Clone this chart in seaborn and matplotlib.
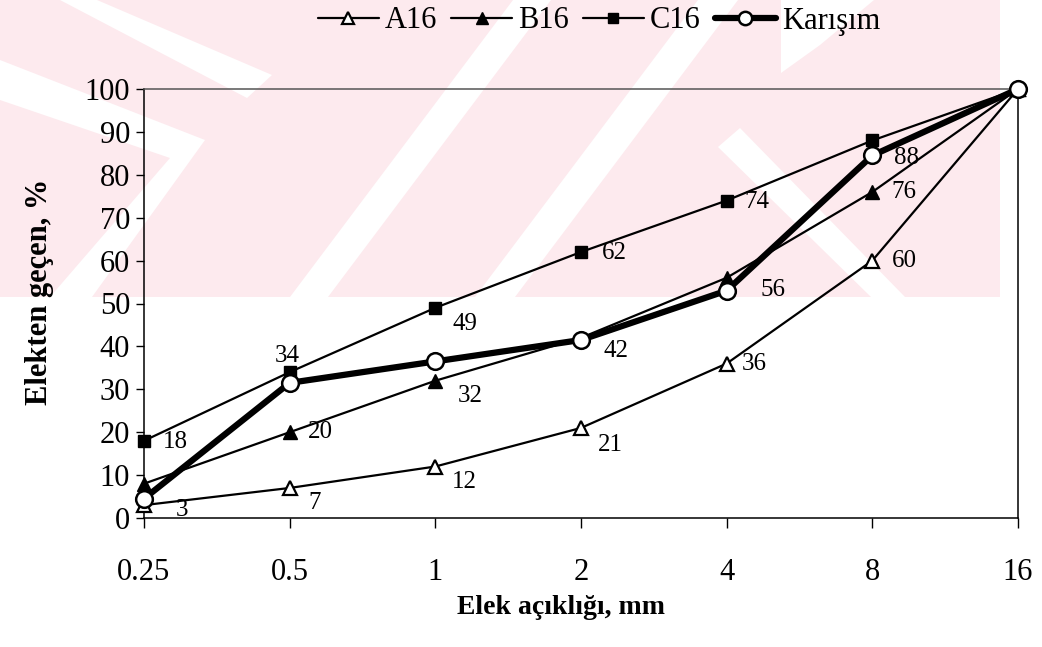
import matplotlib
matplotlib.use("Agg")
import matplotlib.pyplot as plt
import seaborn as sns
import pandas as pd
from matplotlib.patches import Polygon

# ---------------- data ----------------
sieve_sizes = ["0.25", "0.5", "1", "2", "4", "8", "16"]
a16 = [3, 7, 12, 21, 36, 60, 100]
b16 = [8, 20, 32, 42, 56, 76, 100]
c16 = [18, 34, 49, 62, 74, 88, 100]
karisim = [4.5, 31.5, 36.5, 41.5, 53, 84.5, 100]
series_names = ["A16", "B16", "C16", "Karışım"]

# which points carry a value label (index into sieve_sizes)
a16_labelled = [0, 1, 2, 3, 4, 5]
b16_labelled = [1, 2, 3, 4, 5]
c16_labelled = [0, 1, 2, 3, 4, 5]

# label offsets in pixels (right, down) – styling only
a16_offsets = [(38, 5), (25, 15), (29, 15), (29, 17), (28, 0), (32, 0)]
b16_offsets = [(31, 0), (35, 15), (35, 13), (46, 12), (32, 0)]
c16_offsets = [(31, 1), (-2, -16), (30, 16), (33, 1), (30, 1), (34, 18)]

sns.set_theme(style="white")
plt.rcParams["font.family"] = ["Liberation Serif", "DejaVu Serif"]
plt.rcParams["text.color"] = "black"
plt.rcParams["axes.labelcolor"] = "black"
plt.rcParams["xtick.color"] = "black"
plt.rcParams["ytick.color"] = "black"

W, H = 1042, 647
fig = plt.figure(figsize=(W / 100, H / 100), dpi=100)
fig.patch.set_facecolor("white")


# ---------------- watermark (decoration) ----------------
def fpoly(pts, color, z):
    poly = Polygon([(x / W, 1 - y / H) for x, y in pts], closed=True,
                   transform=fig.transFigure, facecolor=color,
                   edgecolor="none", zorder=z)
    fig.add_artist(poly)

pink = "#fdeaee"
fpoly([(0, 0), (1000, 0), (1000, 297), (0, 297)], pink, -20)
white_bands = [
    [(60, 0), (97, 0), (272, 75), (247, 98)],
    [(0, 60), (0, 100), (170, 158), (50, 297), (92, 297), (205, 140)],
    [(290, 297), (328, 297), (551, 0), (513, 0)],
    [(475, 297), (515, 297), (738, 0), (698, 0)],
    [(781, 0), (874, 0), (820, 45), (781, 73)],
    [(718, 147), (740, 128), (905, 297), (871, 297)],
    [(1000, 0), (1042, 0), (1042, 297), (1000, 297)],
]
for b in white_bands:
    fpoly(b, "white", -19)

# ---------------- axes ----------------
ax = fig.add_axes([144 / W, 1 - 518 / H, (1018 - 144) / W, (518 - 89) / H])
ax.set_facecolor("none")

df = pd.DataFrame({
    "size": sieve_sizes * 4,
    "value": a16 + b16 + c16 + karisim,
    "series": sum([[n] * len(sieve_sizes) for n in series_names], []),
})

styles = {
    "A16": dict(marker="^", markersize=10, markerfacecolor="white",
                markeredgecolor="black", markeredgewidth=1.6, linewidth=1.6),
    "B16": dict(marker="^", markersize=10, markerfacecolor="black",
                markeredgecolor="black", markeredgewidth=1.0, linewidth=1.6),
    "C16": dict(marker="s", markersize=8.5, markerfacecolor="black",
                markeredgecolor="black", markeredgewidth=1.0, linewidth=1.6),
    "Karışım": dict(marker="o", markersize=12, markerfacecolor="white",
                    markeredgecolor="black", markeredgewidth=1.8, linewidth=4.5),
}

for name in series_names:
    sub = df[df["series"] == name]
    sns.lineplot(data=sub, x="size", y="value", ax=ax, color="black",
                 sort=False, label=name, clip_on=False, zorder=3,
                 **styles[name])

ax.set_xlim(0, len(sieve_sizes) - 1)
ax.set_ylim(0, 100)
ax.set_yticks(range(0, 101, 10))


# value labels
def put_labels(values, idxs, offs):
    for i, (dx, dy) in zip(idxs, offs):
        ax.annotate(f"{values[i]:g}", xy=(i, values[i]),
                    xytext=(dx * 0.72, -dy * 0.72), textcoords="offset points",
                    ha="center", va="center", fontsize=18, color="black",
                    zorder=5)

put_labels(a16, a16_labelled, a16_offsets)
put_labels(b16, b16_labelled, b16_offsets)
put_labels(c16, c16_labelled, c16_offsets)

# spines & ticks
for side in ["left", "bottom", "right"]:
    ax.spines[side].set_color("black")
    ax.spines[side].set_linewidth(1.1)
    ax.spines[side].set_visible(True)
ax.spines["top"].set_visible(True)
ax.spines["top"].set_color("#555555")
ax.spines["top"].set_linewidth(1.1)

ax.tick_params(axis="y", direction="out", length=6, width=1, color="black",
               labelsize=22, pad=4, left=True, labelcolor="black")
ax.tick_params(axis="x", direction="out", length=7, width=1, color="black",
               labelsize=22, pad=22, bottom=True, labelcolor="black")
ax.grid(False)

ax.set_xlabel("Elek açıklığı, mm", fontsize=20, fontweight="bold", color="black")
ax.xaxis.set_label_coords((561 - 144) / (1018 - 144), -(607 - 518) / (518 - 89))
ax.set_ylabel("Elekten geçen, %", fontsize=22, fontweight="bold", color="black")
ax.yaxis.set_label_coords(-(144 - 40) / (1018 - 144), (518 - 292) / (518 - 89))
ax.xaxis.label.set_va("center")
ax.yaxis.label.set_va("center")

# legend
handles, labels = ax.get_legend_handles_labels()
ax.get_legend().remove()
fig.legend(handles, labels, loc="center", bbox_to_anchor=(599 / W, 1 - 21 / H),
           ncol=4, frameon=False, fontsize=22, handlelength=2.0,
           handletextpad=0.2, columnspacing=0.45, markerscale=0.8)

fig.savefig("out.png", dpi=100, facecolor="white")
